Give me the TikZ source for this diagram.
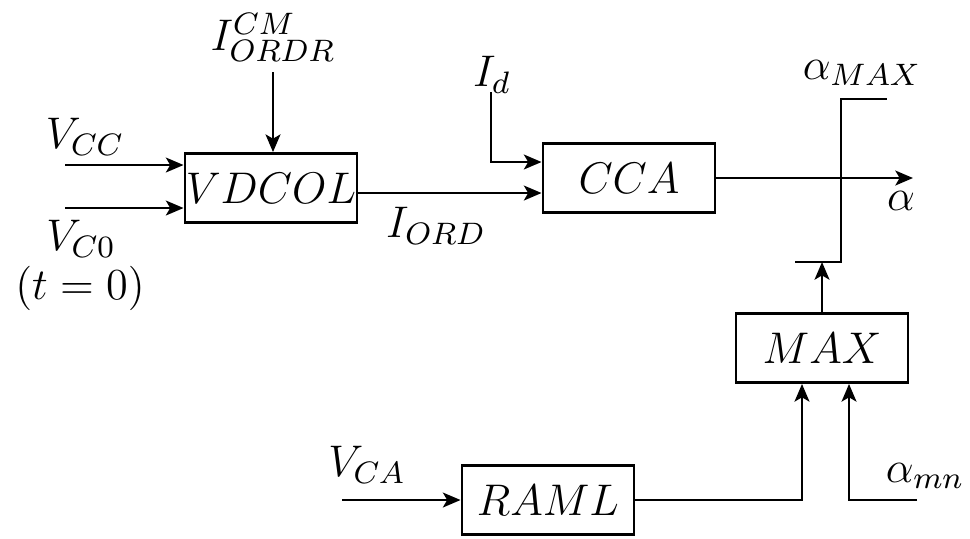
\RequirePackage{fix-cm}
\documentclass[tikz,border=0pt]{standalone}
\usetikzlibrary{arrows.meta}
\begin{document}
\begin{tikzpicture}[x=0.01cm,y=-0.01cm,line width=0.8pt,
  every node/.style={font=\fontsize{12.6}{15}\selectfont},
  blk/.style={draw,minimum width=1.72cm,minimum height=0.69cm,inner sep=0pt},
  >={Stealth[length=5pt,width=4.2pt,inset=1.2pt]}]
\useasboundingbox (0,0) rectangle (970,538);
\node[blk] (vdcol) at (271,188) {$VDCOL$};
\node[blk] (cca) at (629,178) {$CCA$};
\node[blk] (max) at (822,348) {$MAX$};
\node[blk] (raml) at (548,500) {$RAML$};
\node (vcclab) at (85,137) {$V_{CC}$};
\node (vc0lab) at (81,239) {$V_{C0}$};
\node (t0lab) at (80,288) {$(t=0)$};
\node (iordrlab) at (273,37) {$I^{CM}_{ORDR}$};
\node (iordlab) at (436,226) {$I_{ORD}$};
\node (idlab) at (492,75) {$I_d$};
\node (amaxlab) at (862,73) {$\alpha_{MAX}$};
\node (alab) at (901,201) {$\alpha$};
\node (vcalab) at (367,465) {$V_{CA}$};
\node (amnlab) at (925,476) {$\alpha_{mn}$};
\coordinate (vcc) at (65,165);
\coordinate (vc0) at (65,208);
\coordinate (iordr) at (273,72);
\coordinate (id) at (491,92);
\coordinate (aout) at (913,178);
\coordinate (vca) at (342,500);
\coordinate (amn) at (917,500);
\coordinate (lo) at (822,262);
\draw[->] (vcc) -- (vcc -| vdcol.west);
\draw[->] (vc0) -- (vc0 -| vdcol.west);
\draw[->] (iordr) -- (iordr |- vdcol.north);
\draw[->] ([yshift=-0.05cm]vdcol.east) -- ([yshift=-0.05cm]vdcol.east -| cca.west);
\draw[->] (id) |- ([yshift=0.16cm]cca.west);
\draw[->] (cca.east) -- (aout);
\draw (795,262) -- (841,262) -- (841,99) -- (887,99);
\draw[->] (max.north) -- (lo);
\draw[->] (vca) -- (raml.west);
\draw[->] (raml.east) -| ([xshift=-0.2cm]max.south);
\draw[->] (amn) -| ([xshift=0.27cm]max.south);
\end{tikzpicture}
\end{document}
